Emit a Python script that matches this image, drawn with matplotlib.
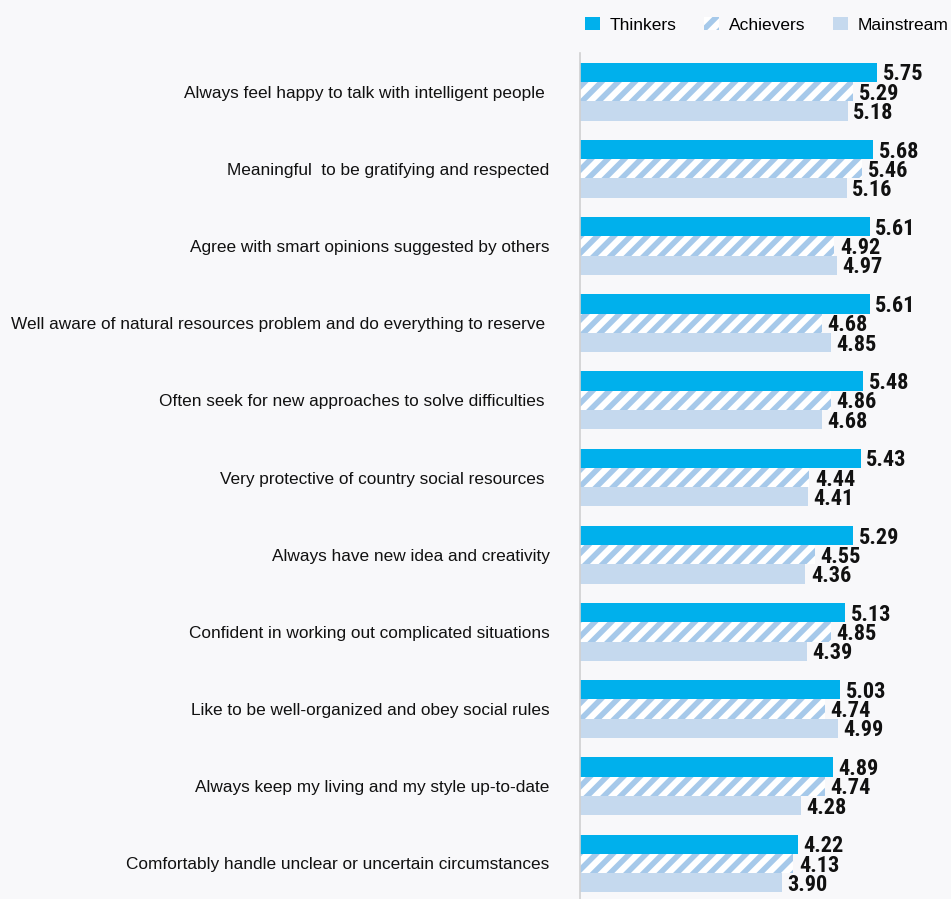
import matplotlib
matplotlib.use("Agg")
import matplotlib.pyplot as plt
import numpy as np

categories = [
    "Always feel happy to talk with intelligent people ",
    "Meaningful  to be gratifying and respected",
    "Agree with smart opinions suggested by others",
    "Well aware of natural resources problem and do everything to reserve ",
    "Often seek for new approaches to solve difficulties ",
    "Very protective of country social resources ",
    "Always have new idea and creativity",
    "Confident in working out complicated situations",
    "Like to be well-organized and obey social rules",
    "Always keep my living and my style up-to-date",
    "Comfortably handle unclear or uncertain circumstances",
]
thinkers = [5.75, 5.68, 5.61, 5.61, 5.48, 5.43, 5.29, 5.13, 5.03, 4.89, 4.22]
achievers = [5.29, 5.46, 4.92, 4.68, 4.86, 4.44, 4.55, 4.85, 4.74, 4.74, 4.13]
mainstream = [5.18, 5.16, 4.97, 4.85, 4.68, 4.41, 4.36, 4.39, 4.99, 4.28, 3.90]
series_names = ["Thinkers", "Achievers", "Mainstream"]

BG = "#f8f8fa"
C_TH = "#00b0ec"
C_AC = "#a6c9ea"
C_MA = "#c5d9ee"

plt.rcParams["hatch.linewidth"] = 4.0
plt.rcParams["font.family"] = ["Liberation Sans", "DejaVu Sans"]

fig = plt.figure(figsize=(9.51, 8.99), dpi=100, facecolor=BG)
ax = fig.add_axes([580 / 951, 0.0, 371 / 951, 846 / 899])
ax.set_facecolor(BG)

y = np.arange(len(categories))
h = 0.25
b1 = ax.barh(y - h, thinkers, height=h, color=C_TH, label=series_names[0])
b2 = ax.barh(y, achievers, height=h, color="white", edgecolor=C_AC, hatch="//",
             linewidth=0, label=series_names[1])
b3 = ax.barh(y + h, mainstream, height=h, color=C_MA, label=series_names[2])

for bars, vals in ((b1, thinkers), (b2, achievers), (b3, mainstream)):
    for rect, v in zip(bars, vals):
        ax.annotate(f"{v:.2f}", (rect.get_width(), rect.get_y() + rect.get_height() / 2),
                    xytext=(4, -1.5), textcoords="offset points", ha="left", va="center",
                    fontsize=16, fontweight="bold", color="#111111",
                    family=["Roboto Condensed", "Roboto", "DejaVu Sans"])

ax.set_xlim(0, 7.18)
ax.set_ylim(10.46, -0.5)
ax.set_yticks(y)
ax.set_yticklabels(categories, fontsize=12.4, color="#111111")
ax.tick_params(axis="y", length=0, pad=22)
ax.set_xticks([])
for s in ("top", "right", "bottom"):
    ax.spines[s].set_visible(False)
ax.spines["left"].set_color("#d0d0d0")
ax.spines["left"].set_linewidth(1.2)

leg = fig.legend(handles=[b1, b2, b3], labels=series_names, loc="upper right",
                 bbox_to_anchor=(1.0135, 0.999), ncol=3, frameon=False, fontsize=12.5,
                 handlelength=0.86, handleheight=0.86, columnspacing=1.6, handletextpad=0.55)

fig.savefig("out.png", dpi=100, facecolor=BG)
